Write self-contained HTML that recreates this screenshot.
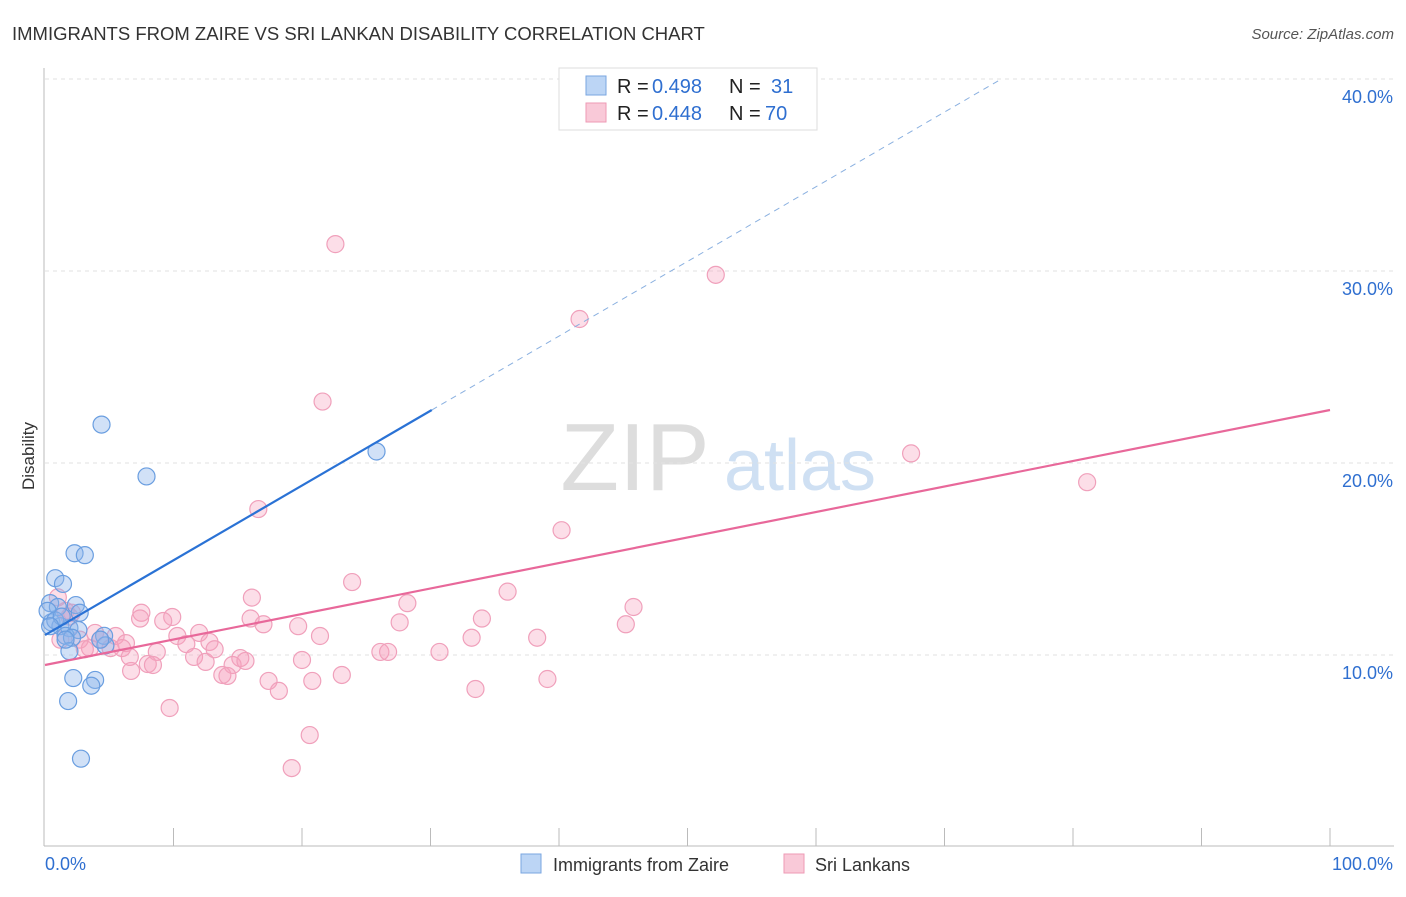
<!DOCTYPE html>
<html><head><meta charset="utf-8"><style>
body{margin:0;background:#fff;font-family:"Liberation Sans",sans-serif;}
svg text{font-family:"Liberation Sans",sans-serif;}
</style></head><body>
<svg id="c" width="1406" height="892">
<text x="12" y="40" font-size="18.5" fill="#333">IMMIGRANTS FROM ZAIRE VS SRI LANKAN DISABILITY CORRELATION CHART</text>
<text x="1394" y="39" font-size="15" fill="#555" text-anchor="end" font-style="italic">Source: ZipAtlas.com</text>
<text x="34" y="456" font-size="17" fill="#333" text-anchor="middle" transform="rotate(-90 34 456)">Disability</text>
<g><text x="635" y="490" font-size="96" fill="#ddd" font-family="Liberation Serif" text-anchor="middle">ZIP</text><text x="800" y="490" font-size="72" fill="#cfe0f3" text-anchor="middle">atlas</text></g>
<g id="grid"></g><g id="axes"></g><g id="marks"></g>
<g>
<rect x="559" y="68" width="258" height="62" fill="#fff" stroke="#ddd"/>
<rect x="586" y="76" width="20" height="19" fill="#bcd5f5" stroke="#7aa6e0"/>
<rect x="586" y="103" width="20" height="19" fill="#f9c9d8" stroke="#ee9ab5"/>
<text x="617" y="93" font-size="20" fill="#222">R =</text>
<text x="652" y="93" font-size="20" fill="#2f6fd0">0.498</text>
<text x="729" y="93" font-size="20" fill="#222">N =</text>
<text x="771" y="93" font-size="20" fill="#2f6fd0">31</text>
<text x="617" y="120" font-size="20" fill="#222">R =</text>
<text x="652" y="120" font-size="20" fill="#2f6fd0">0.448</text>
<text x="729" y="120" font-size="20" fill="#222">N =</text>
<text x="765" y="120" font-size="20" fill="#2f6fd0">70</text>
</g>
<g>
<rect x="521" y="854" width="20" height="19" fill="#bcd5f5" stroke="#7aa6e0"/>
<text x="553" y="871" font-size="18" fill="#333">Immigrants from Zaire</text>
<rect x="784" y="854" width="20" height="19" fill="#f9c9d8" stroke="#ee9ab5"/>
<text x="815" y="871" font-size="18" fill="#333">Sri Lankans</text>
</g>
</svg>
<script>
const yTicks=[10,20,30,40];
const yTickLabels=["10.0%","20.0%","30.0%","40.0%"];
const xTickLabels=["0.0%","100.0%"];
const zaireX=[4.4,7.9,25.8,2.3,3.1,0.8,1.4,0.4,1.0,2.4,2.7,0.5,1.2,1.9,2.6,1.6,2.1,4.6,4.7,1.9,2.2,3.9,3.6,1.8,2.8,0.2,0.8,1.3,1.6,0.4,4.3];
const zaireY=[22.0,19.3,20.6,15.3,15.2,14.0,13.7,12.7,12.5,12.6,12.2,11.7,11.5,11.4,11.3,11.0,10.9,11.0,10.5,10.2,8.8,8.7,8.4,7.6,4.6,12.3,11.8,12.0,10.8,11.5,10.8];
const lankaX=[22.6,52.2,41.6,21.6,67.4,81.1,16.6,40.2,23.9,36.0,16.1,28.2,45.8,7.5,9.9,9.2,34.0,17.0,27.6,19.7,45.2,21.4,10.3,12.0,33.2,38.3,12.8,11.0,5.5,6.3,4.3,2.7,5.1,6.0,8.7,15.2,20.0,26.1,26.7,30.7,11.6,12.5,14.6,15.6,8.0,8.4,6.7,13.8,14.2,17.4,23.1,20.8,18.2,39.1,33.5,9.7,20.6,19.2,1.0,1.2,3.5,3.9,1.6,7.4,2.1,3.1,6.6,13.2,16.0,1.9];
const lankaY=[31.4,29.8,27.5,23.2,20.5,19.0,17.6,16.5,13.8,13.3,12.99,12.7,12.5,12.2,11.98,11.77,11.9,11.6,11.7,11.5,11.6,10.99,10.99,11.15,10.9,10.9,10.68,10.57,10.99,10.62,10.8,10.8,10.36,10.36,10.16,9.84,9.74,10.16,10.16,10.16,9.9,9.64,9.48,9.69,9.53,9.48,9.17,8.96,8.91,8.65,8.96,8.65,8.13,8.75,8.23,7.24,5.83,4.11,13.0,10.8,10.36,11.15,12.3,11.9,12.2,10.3,9.9,10.3,11.9,12.0];
const zaireLine=[0,11.04,30.1,22.76,74.3,39.95];
const lankaLine=[0,9.48,100,22.76];
const X=v=>45+v*12.85, Y=v=>847-v*19.2;
const NS="http://www.w3.org/2000/svg";
function mk(t,a,p){const e=document.createElementNS(NS,t);for(const k in a)e.setAttribute(k,a[k]);p.appendChild(e);return e;}
const grid=document.getElementById('grid'),axes=document.getElementById('axes'),marks=document.getElementById('marks');
yTicks.forEach((t,i)=>{const g=mk('line',{x1:45,x2:1394,y1:Y(t),y2:Y(t),stroke:'#e2e2e2','stroke-dasharray':'4,4'},grid);


const l=mk('text',{x:1393,y:Y(t)+24,'font-size':18,fill:'#2f6fd0','text-anchor':'end'},axes);l.textContent=yTickLabels[i];

});
mk('line',{x1:44,x2:44,y1:68,y2:846,stroke:'#bbb'},axes);
mk('line',{x1:44,x2:1394,y1:846,y2:846,stroke:'#bbb'},axes);
for(let i=1;i<=10;i++){const tk=mk('line',{x1:X(i*10),x2:X(i*10),y1:828,y2:846,stroke:'#bbb'},axes);

}
[[0,'start',45],[1,'end',1393]].forEach(([i,a,x])=>{const l=mk('text',{x:x,y:870,'font-size':18,fill:'#2f6fd0','text-anchor':a},axes);l.textContent=xTickLabels[i];

});
lankaX.forEach((v,i)=>{const c=mk('circle',{cx:X(v),cy:Y(lankaY[i]),r:8.5,fill:'rgba(245,160,190,0.35)',stroke:'#f0a0bb','stroke-width':1.2},marks);

});
zaireX.forEach((v,i)=>{const c=mk('circle',{cx:X(v),cy:Y(zaireY[i]),r:8.5,fill:'rgba(140,180,235,0.4)',stroke:'#6a9ee0','stroke-width':1.2},marks);

});
let l1=mk('line',{x1:X(zaireLine[0]),y1:Y(zaireLine[1]),x2:X(zaireLine[2]),y2:Y(zaireLine[3]),stroke:'#2a72d5','stroke-width':2.2},marks);


let l2=mk('line',{x1:X(zaireLine[2]),y1:Y(zaireLine[3]),x2:X(zaireLine[4]),y2:Y(zaireLine[5]),stroke:'#8ab0e0','stroke-width':1,'stroke-dasharray':'6,5'},marks);


let l3=mk('line',{x1:X(lankaLine[0]),y1:Y(lankaLine[1]),x2:X(lankaLine[2]),y2:Y(lankaLine[3]),stroke:'#e8689a','stroke-width':2.2},marks);


</script>
</body></html>
